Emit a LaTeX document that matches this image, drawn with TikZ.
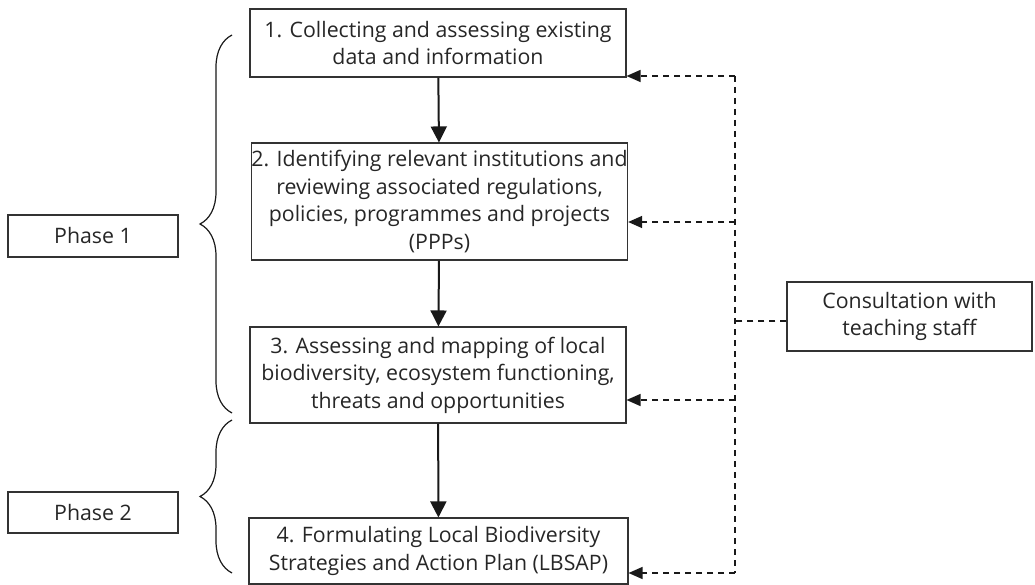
\documentclass[tikz,border=0pt]{standalone}
\usepackage{fontspec}
\setmainfont{Open Sans}
\usetikzlibrary{positioning, calc, arrows.meta, decorations.pathreplacing}

\tikzset{
	stepbox/.style={draw=black!80, line width=1.1pt, text=black!85, align=center, inner sep=0pt, font=\fontsize{21.3}{27.5}\selectfont},
	phasebox/.style={stepbox},
	flow/.style={draw=black!90, line width=2pt, -{Triangle[length=16pt, width=16pt]}},
	consult/.style={draw=black!90, line width=1.4pt, dash pattern=on 6pt off 5pt},
	consultarrow/.style={consult, -{Triangle[length=14pt, width=12pt]}},
	phasebrace/.style={draw=black!90, line width=1.2pt, decorate, decoration={brace, mirror, amplitude=32pt}}
}

\begin{document}
\begin{tikzpicture}[x=1pt, y=-1pt]
	\useasboundingbox (0, 0) rectangle (1035, 585);

	\node[stepbox, minimum width=376pt, minimum height=68pt] (S1) at (438, 43) {1. Collecting and assessing existing\\ data and information};
	\node[stepbox, minimum width=375pt, minimum height=117pt] (S2) at (439.5, 201.5) {2. Identifying relevant institutions and\\ reviewing associated regulations,\\ policies, programmes and projects\\ (PPPs)};
	\node[stepbox, minimum width=376pt, minimum height=96pt] (S3) at (438, 375) {3. Assessing and mapping of local\\ biodiversity, ecosystem functioning,\\ threats and opportunities};
	\node[stepbox, minimum width=379pt, minimum height=66pt] (S4) at (438.5, 551) {4. Formulating Local Biodiversity\\ Strategies and Action Plan (LBSAP)};

	\node[stepbox, minimum width=245pt, minimum height=69pt] (C) at (909.5, 316.5) {Consultation with\\ teaching staff};

	\node[phasebox, minimum width=170pt, minimum height=42pt] (P1) at (93, 236) {Phase 1};
	\node[phasebox, minimum width=170pt, minimum height=41pt] (P2) at (93, 512.5) {Phase 2};

	\draw[flow] (S1) -- (S2);
	\draw[flow] (S2) -- (S3);
	\draw[flow] (S3) -- (S4);

	\coordinate (D1) at (735, 76);
	\coordinate (D2) at (735, 222);
	\coordinate (D3) at (735, 400);
	\coordinate (D4) at (735, 573);
	\coordinate (DC) at (735, 321);

	\draw[consult] (D1) -- (D4);
	\draw[consult] (C.west |- DC) -- (DC);
	\draw[consultarrow] (D1) -- (D1 -| S1.east);
	\draw[consultarrow] (D2) -- (D2 -| S2.east);
	\draw[consultarrow] (D3) -- (D3 -| S3.east);
	\draw[consultarrow] (D4) -- (D4 -| S4.east);

	\draw[phasebrace] (232, 35) -- (232, 413);
	\draw[phasebrace] (232, 420) -- (232, 573);
\end{tikzpicture}
\end{document}
